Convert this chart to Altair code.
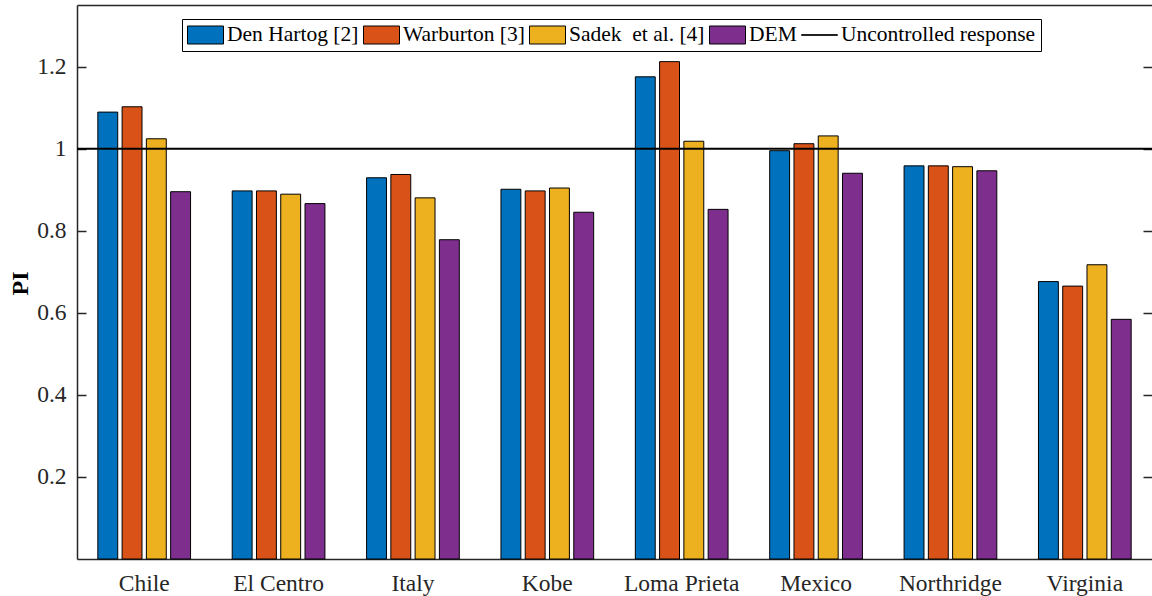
import altair as alt
import pandas as pd

# Performance index per earthquake record and damper design
quakes = ["Chile", "El Centro", "Italy", "Kobe", "Loma Prieta", "Mexico", "Northridge", "Virginia"]
den_hartog = [1.089, 0.897, 0.929, 0.901, 1.175, 0.995, 0.958, 0.676]
warburton = [1.102, 0.897, 0.937, 0.897, 1.212, 1.012, 0.958, 0.665]
sadek = [1.024, 0.889, 0.880, 0.904, 1.018, 1.031, 0.956, 0.717]
dem = [0.895, 0.866, 0.778, 0.845, 0.852, 0.940, 0.946, 0.584]

series_names = ["Den Hartog [2]", "Warburton [3]", "Sadek\u00a0 et al. [4]", "DEM"]
reference_name = "Uncontrolled response"
reference_level = [1.0]
series_colors = ["#0072BD", "#D95319", "#EDB120", "#7E2F8E", "#000000"]
y_ticks = [0.2, 0.4, 0.6, 0.8, 1.0, 1.2]

rows = []
for name, vals in zip(series_names, [den_hartog, warburton, sadek, dem]):
    for q, v in zip(quakes, vals):
        rows.append({"quake": q, "series": name, "pi": v})
bars_df = pd.DataFrame(rows)
ref_df = pd.DataFrame({"pi": reference_level})

FONT = "Liberation Serif"
AXIS_COLOR = "#262626"
y_scale = alt.Scale(domain=[0, 1.35], nice=False, zero=True)
color_scale = alt.Scale(domain=series_names + [reference_name], range=series_colors)

# swatches are 2:1 rectangles; the reference entry is a thin black bar
IS_REF = "datum.value === 'Uncontrolled response'"
legend = alt.Legend(
    title=None,
    orient="none",
    direction="horizontal",
    legendX=105,
    legendY=14,
    padding=5,
    strokeColor="black",
    fillColor="white",
    labelFont=FONT,
    labelFontSize=21.5,
    labelColor="black",
    labelOffset=3,
    labelLimit=400,
    columnPadding=4,
    clipHeight=22,
    symbolSize=1296,
    symbolType={
        "expr": f"{IS_REF} ? 'M-1,-0.014L1,-0.014L1,0.014L-1,0.014Z' : 'M-1,-0.5L1,-0.5L1,0.5L-1,0.5Z'"
    },
    symbolStrokeColor="black",
    symbolStrokeWidth=1,
    symbolOpacity=1,
)

bars = alt.Chart(bars_df).mark_bar(stroke="black", strokeWidth=1).encode(
    x=alt.X(
        "quake:N",
        sort=quakes,
        scale=alt.Scale(paddingInner=0.31, paddingOuter=0.155),
        axis=alt.Axis(
            title=None,
            orient="bottom",
            labelAngle=0,
            ticks=False,
            labelPadding=12,
            labelFont=FONT,
            labelFontSize=23.5,
            labelColor=AXIS_COLOR,
            domainColor=AXIS_COLOR,
            domainWidth=1.5,
        ),
    ),
    xOffset=alt.XOffset("series:N", sort=series_names, scale=alt.Scale(paddingInner=0.18, paddingOuter=0)),
    y=alt.Y(
        "pi:Q",
        scale=y_scale,
        axis=alt.Axis(
            title="PI",
            orient="left",
            values=y_ticks,
            format=".1~f",
            grid=False,
            tickSize={"expr": "-9"},
            tickWidth=1.5,
            tickColor=AXIS_COLOR,
            labelPadding=20,
            labelFont=FONT,
            labelFontSize=23.5,
            labelColor=AXIS_COLOR,
            domainColor=AXIS_COLOR,
            domainWidth=1.5,
            titleFont=FONT,
            titleFontSize=24,
            titleFontWeight="bold",
            titleColor="black",
            titleAngle=270,
            titleAlign="center",
            titleBaseline="bottom",
            titleX=-45,
            titleY=278,
        ),
    ),
    color=alt.Color("series:N", scale=color_scale, legend=legend),
)

# box top and right-hand inward ticks
frame = alt.Chart(bars_df).mark_bar(opacity=0).encode(
    x=alt.X(
        "quake:N",
        sort=quakes,
        axis=alt.Axis(
            title=None,
            orient="top",
            labels=False,
            ticks=False,
            domainColor=AXIS_COLOR,
            domainWidth=1.5,
        ),
    ),
    y=alt.Y(
        "pi:Q",
        scale=y_scale,
        axis=alt.Axis(
            title=None,
            orient="right",
            values=y_ticks,
            labels=False,
            domain=False,
            grid=False,
            tickSize={"expr": "-9"},
            tickWidth=1.5,
            tickColor=AXIS_COLOR,
        ),
    ),
)

reference = alt.Chart(ref_df).mark_rule(strokeWidth=2, color="black").encode(
    y=alt.Y("pi:Q", scale=y_scale, axis=None),
)

chart = (
    alt.layer(bars, frame, reference)
    .resolve_axis(x="independent", y="independent")
    .properties(
        width=1075,
        height=554,
        autosize=alt.AutoSizeParams(type="none"),
        padding={"left": 77, "top": 5, "right": 0, "bottom": 37},
        background="white",
    )
    .configure_view(stroke=None)
)

chart.save("out.html", embed_options={"renderer": "svg", "actions": False})
